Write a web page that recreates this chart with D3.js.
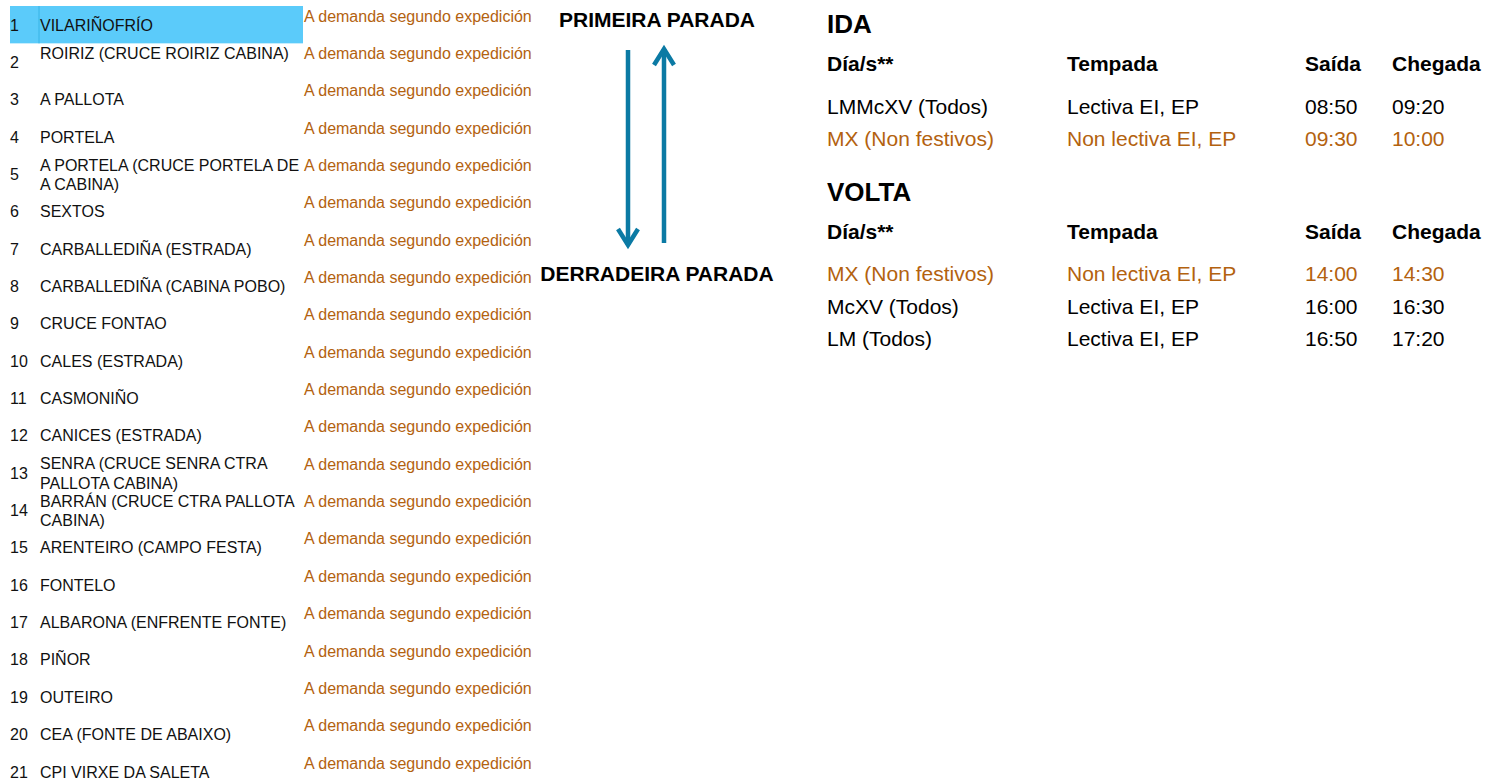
<!DOCTYPE html>
<html>
<head>
<meta charset="utf-8">
<script src="https://cdn.jsdelivr.net/npm/d3@7"></script>
<style>
  html, body { margin: 0; padding: 0; background: #fff; }
  svg { display: block; font-family: "Liberation Sans", Arial, sans-serif; }
</style>
</head>
<body>
<script>
// ---------- DATA ----------
const stopNumbers = d3.range(1, 22);
const stopNames = [
  ["VILARIÑOFRÍO"],
  ["ROIRIZ (CRUCE ROIRIZ CABINA)", ""],
  ["A PALLOTA"],
  ["PORTELA"],
  ["A PORTELA (CRUCE PORTELA DE", "A CABINA)"],
  ["SEXTOS"],
  ["CARBALLEDIÑA (ESTRADA)"],
  ["CARBALLEDIÑA (CABINA POBO)"],
  ["CRUCE FONTAO"],
  ["CALES (ESTRADA)"],
  ["CASMONIÑO"],
  ["CANICES (ESTRADA)"],
  ["SENRA (CRUCE SENRA CTRA", "PALLOTA CABINA)"],
  ["BARRÁN (CRUCE CTRA PALLOTA", "CABINA)"],
  ["ARENTEIRO (CAMPO FESTA)"],
  ["FONTELO"],
  ["ALBARONA (ENFRENTE FONTE)"],
  ["PIÑOR"],
  ["OUTEIRO"],
  ["CEA (FONTE DE ABAIXO)"],
  ["CPI VIRXE DA SALETA"]
];
const stopTimes = stopNumbers.map(() => "A demanda segundo expedición");
const highlightedStop = 1;

const directionLabels = ["PRIMEIRA PARADA", "DERRADEIRA PARADA"];

const tableHeaders = ["Día/s**", "Tempada", "Saída", "Chegada"];
const idaDays    = ["LMMcXV (Todos)", "MX (Non festivos)"];
const idaSeason  = ["Lectiva EI, EP", "Non lectiva EI, EP"];
const idaDepart  = ["08:50", "09:30"];
const idaArrive  = ["09:20", "10:00"];
const idaHoliday = [false, true];

const voltaDays    = ["MX (Non festivos)", "McXV (Todos)", "LM (Todos)"];
const voltaSeason  = ["Non lectiva EI, EP", "Lectiva EI, EP", "Lectiva EI, EP"];
const voltaDepart  = ["14:00", "16:00", "16:50"];
const voltaArrive  = ["14:30", "16:30", "17:20"];
const voltaHoliday = [true, false, false];

// ---------- STYLE ----------
const W = 1485, H = 778;
const ORANGE = "#B3620F";
const BLUE = "#0B7AA4";
const HIGHLIGHT = "#5BCBFA";

const svg = d3.select("body").append("svg")
  .attr("width", W).attr("height", H);

// ---------- STOP LIST ----------
const rowY = d3.scaleLinear().domain([0, 21]).range([6, 6 + 21 * 37.35]);

const rows = svg.append("g").selectAll("g")
  .data(stopNames.map((n, i) => ({ n, i, num: stopNumbers[i], t: stopTimes[i] })))
  .join("g")
  .attr("transform", d => `translate(0,${rowY(d.i)})`);

rows.filter(d => d.num === highlightedStop).append("rect")
  .attr("x", 10).attr("y", 0).attr("width", 293)
  .attr("height", rowY(1) - rowY(0))
  .attr("fill", HIGHLIGHT);
rows.filter(d => d.num === highlightedStop).append("line")
  .attr("x1", 39).attr("x2", 39).attr("y1", 0).attr("y2", rowY(1) - rowY(0))
  .attr("stroke", "#38B4E6").attr("stroke-width", 1);

rows.append("text")
  .attr("x", 10).attr("y", 24.5)
  .attr("font-size", 16).attr("fill", "#111")
  .text(d => d.num);

rows.each(function(d) {
  const g = d3.select(this);
  if (d.n.length === 1) {
    g.append("text").attr("x", 40).attr("y", 24.5)
      .attr("font-size", 16).attr("fill", "#111").text(d.n[0]);
  } else {
    d.n.forEach((line, k) => {
      g.append("text").attr("x", 40).attr("y", 15.3 + k * 19.6)
        .attr("font-size", 16).attr("fill", "#111").text(line);
    });
  }
});

rows.append("text")
  .attr("x", 304).attr("y", 15.6)
  .attr("font-size", 16).attr("fill", ORANGE)
  .text(d => d.t);

// ---------- DIRECTION ARROWS ----------
svg.append("defs").append("clipPath").attr("id", "midclip")
  .append("rect").attr("x", 539).attr("y", 0).attr("width", 260).attr("height", 300);

const mid = svg.append("g").attr("clip-path", "url(#midclip)");
mid.append("text").attr("x", 657).attr("y", 26.5)
  .attr("text-anchor", "middle").attr("font-weight", "bold").attr("font-size", 21)
  .attr("fill", "#000").text(directionLabels[0]);
mid.append("text").attr("x", 657).attr("y", 280.5)
  .attr("text-anchor", "middle").attr("font-weight", "bold").attr("font-size", 21)
  .attr("fill", "#000").text(directionLabels[1]);

const arrows = svg.append("g").attr("stroke", BLUE).attr("stroke-width", 4.5)
  .attr("fill", "none").attr("stroke-linejoin", "miter");
// down arrow
arrows.append("line").attr("x1", 628).attr("x2", 628).attr("y1", 50).attr("y2", 245);
arrows.append("path").attr("d", "M618,229 L628,245 L638,229");
// up arrow
arrows.append("line").attr("x1", 664).attr("x2", 664).attr("y1", 243).attr("y2", 49);
arrows.append("path").attr("d", "M654,65 L664,49 L674,65");

// ---------- TIMETABLES ----------
const colX = [827, 1067, 1305, 1392];

function table(title, titleY, headerY, rowYs, days, season, dep, arr, hol) {
  const g = svg.append("g");
  g.append("text").attr("x", colX[0]).attr("y", titleY)
    .attr("font-weight", "bold").attr("font-size", 26).attr("fill", "#000").text(title);
  g.selectAll("text.h").data(tableHeaders).join("text").attr("class", "h")
    .attr("x", (d, i) => colX[i]).attr("y", headerY)
    .attr("font-weight", "bold").attr("font-size", 21).attr("fill", "#000")
    .text(d => d);
  const data = days.map((d, i) => ({ cells: [d, season[i], dep[i], arr[i]], hol: hol[i], y: rowYs[i] }));
  const r = g.selectAll("g.r").data(data).join("g").attr("class", "r");
  r.selectAll("text").data(d => d.cells.map(c => ({ c, hol: d.hol, y: d.y })))
    .join("text")
    .attr("x", (d, i) => colX[i]).attr("y", d => d.y)
    .attr("font-size", 21).attr("fill", d => d.hol ? ORANGE : "#000")
    .text(d => d.c);
}

table("IDA", 33, 70.5, [113.5, 145.5], idaDays, idaSeason, idaDepart, idaArrive, idaHoliday);
table("VOLTA", 201, 238.5, [280.5, 313.5, 345.5], voltaDays, voltaSeason, voltaDepart, voltaArrive, voltaHoliday);
</script>
</body>
</html>
